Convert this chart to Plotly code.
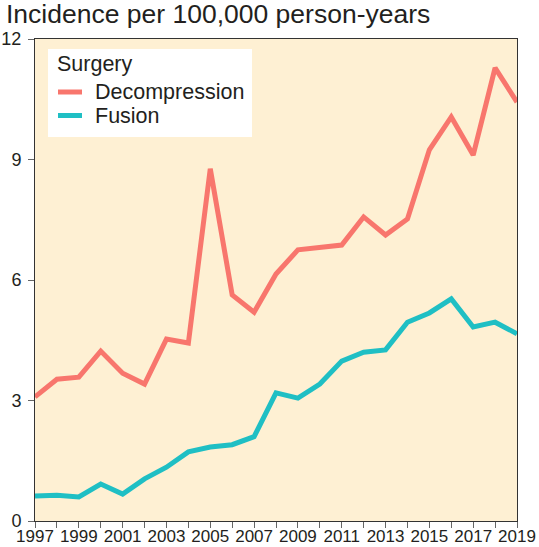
import plotly.graph_objects as go

years = list(range(1997, 2020))
decompression = [3.09, 3.53, 3.58, 4.23, 3.68, 3.41, 4.53, 4.43, 8.77, 5.63, 5.20, 6.15,
                 6.75, 6.80, 6.87, 7.57, 7.12, 7.52, 9.24, 10.06, 9.11, 11.28, 10.43]
fusion = [0.62, 0.64, 0.60, 0.92, 0.67, 1.05, 1.34, 1.72, 1.84, 1.90, 2.10, 3.19,
          3.06, 3.41, 3.98, 4.20, 4.26, 4.95, 5.18, 5.53, 4.83, 4.95, 4.66]
tick_years = list(range(1997, 2020, 2))
y_ticks = [0, 3, 6, 9, 12]
series_names = ["Decompression", "Fusion"]
series_colors = ["#F8766D", "#1FBFC4"]

FONT = "Liberation Sans, Arial, sans-serif"
TXT = "#231f20"

# plot area in pixels
L, R, T, B = 35, 517, 39, 521
W, H = R - L, B - T
def px(x):
    return (x - L) / W
def py(y):
    return (B - y) / H

fig = go.Figure()
for name, vals, col in zip(series_names, [decompression, fusion], series_colors):
    fig.add_trace(go.Scatter(x=years, y=vals, mode="lines", name=name,
                             line=dict(color=col, width=5), showlegend=False))

shapes = [dict(type="rect", xref="paper", yref="paper", x0=px(48), x1=px(252),
               y0=py(137), y1=py(49), fillcolor="white", line=dict(width=0), layer="above")]
annotations = [dict(text="Incidence per 100,000 person-years", xref="paper", yref="paper",
                    x=px(0), xshift=4, xanchor="left", y=py(14), yanchor="middle",
                    showarrow=False, font=dict(family=FONT, size=26.5, color=TXT)),
               dict(text="Surgery", xref="paper", yref="paper", x=px(55), xanchor="left",
                    y=py(64), yanchor="middle", showarrow=False,
                    font=dict(family=FONT, size=21.5, color=TXT))]
for i, (name, col) in enumerate(zip(series_names, series_colors)):
    yy = 92 + i * 23.5
    shapes.append(dict(type="line", xref="paper", yref="paper", x0=px(58), x1=px(82),
                       y0=py(yy), y1=py(yy), line=dict(color=col, width=5), layer="above"))
    annotations.append(dict(text=name, xref="paper", yref="paper", x=px(93), xanchor="left",
                            y=py(yy), yanchor="middle", showarrow=False,
                            font=dict(family=FONT, size=21.5, color=TXT)))

fig.update_layout(
    width=539, height=547,
    margin=dict(l=L, r=539 - R, t=T, b=547 - B, autoexpand=False),
    paper_bgcolor="white",
    plot_bgcolor="#FEF0D3",
    font=dict(family=FONT, size=18, color=TXT),
    showlegend=False,
    shapes=shapes,
    annotations=annotations,
)
fig.update_xaxes(range=[1997, 2019], tickvals=tick_years, ticktext=[str(y) for y in tick_years],
                 ticks="outside", ticklen=6, tickcolor="#666", tickwidth=1, automargin=False,
                 ticklabelstandoff=-6,
                 minor=dict(dtick=1, tick0=1997, ticks="outside", ticklen=6, tickcolor="#666", showgrid=False),
                 showgrid=False, zeroline=False, showline=True, mirror=True,
                 linecolor="#333", linewidth=1, tickfont=dict(size=17))
fig.update_yaxes(range=[0, 12], tickvals=y_ticks, ticks="outside", ticklen=6, automargin=False,
                 ticklabelstandoff=3,
                 tickcolor="#666", tickwidth=1, showgrid=False, zeroline=False,
                 showline=True, mirror=True, linecolor="#333", linewidth=1,
                 tickfont=dict(size=18))

fig.write_html("out.html")
